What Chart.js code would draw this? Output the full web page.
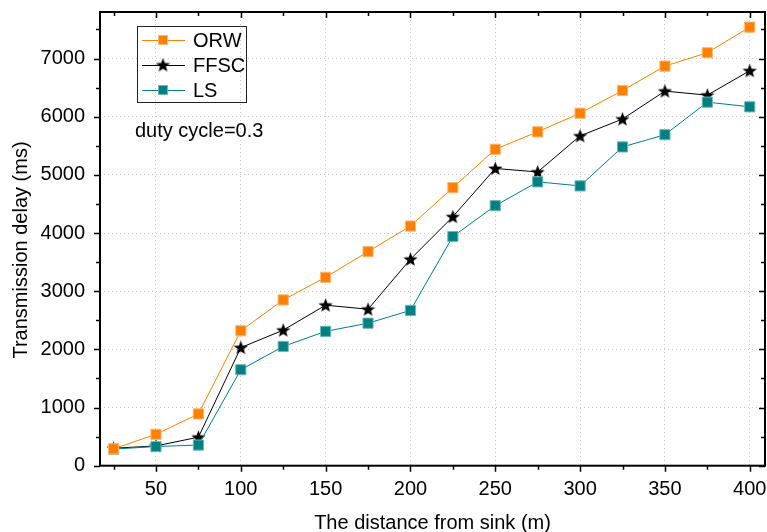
<!DOCTYPE html>
<html>
<head>
<meta charset="utf-8">
<script src="https://cdn.jsdelivr.net/npm/chart.js@4/dist/chart.umd.min.js"></script>
<style>
  html, body { margin: 0; padding: 0; background: #fff; }
  #wrap { width: 767px; height: 532px; }
</style>
</head>
<body>
<div id="wrap"><canvas id="delayChart" width="767" height="532"></canvas></div>
<script>
// Data
const distances = [25, 50, 75, 100, 125, 150, 175, 200, 225, 250, 275, 300, 325, 350, 375, 400];
const orw  = [290, 540, 890, 2320, 2850, 3240, 3680, 4120, 4780, 5440, 5740, 6060, 6450, 6870, 7100, 7540];
const ffsc = [300, 340, 490, 2030, 2330, 2760, 2690, 3550, 4280, 5110, 5050, 5670, 5960, 6440, 6370, 6790];
const ls   = [285, 330, 355, 1650, 2050, 2310, 2450, 2670, 3940, 4470, 4880, 4810, 5480, 5690, 6250, 6170];

const xTicks = [25, 50, 75, 100, 125, 150, 175, 200, 225, 250, 275, 300, 325, 350, 375, 400];
const yTicks = [0, 500, 1000, 1500, 2000, 2500, 3000, 3500, 4000, 4500, 5000, 5500, 6000, 6500, 7000, 7500];

const FONT = 'Arial, "Liberation Sans", sans-serif';
const ORANGE = '#ff8000';
const TEAL = '#008080';

// filled five-point star used as point style
function makeStar(size) {
    const c = document.createElement('canvas');
    c.width = size; c.height = size;
    const g = c.getContext('2d');
    const cx = size / 2, cy = size / 2 + 0.5;
    const R = size / 2, r = R * 0.42;
    g.beginPath();
    for (let i = 0; i < 10; i++) {
        const rad = i % 2 === 0 ? R : r;
        const a = -Math.PI / 2 + i * Math.PI / 5;
        g.lineTo(cx + rad * Math.cos(a), cy + rad * Math.sin(a));
    }
    g.closePath();
    g.fillStyle = '#000';
    g.fill();
    return c;
}
const star = makeStar(15);

function pts(vals) {
    return distances.map((d, i) => ({ x: d, y: vals[i] }));
}

// frame, tick marks, axis titles, legend box and note
const decorations = {
    id: 'decorations',
    afterDraw(chart) {
        const { ctx, chartArea: a, scales: { x, y } } = chart;
        ctx.save();
        ctx.strokeStyle = '#000';
        ctx.lineWidth = 2;
        ctx.strokeRect(a.left, a.top, a.right - a.left, a.bottom - a.top);

        ctx.lineWidth = 1.5;
        ctx.beginPath();
        xTicks.forEach(v => {
            const px = Math.round(x.getPixelForValue(v)) + 0.5;
            const len = v % 50 === 0 ? 6 : 4;
            ctx.moveTo(px, a.bottom); ctx.lineTo(px, a.bottom + len);
            ctx.moveTo(px, a.top); ctx.lineTo(px, a.top + len);
        });
        yTicks.forEach(v => {
            const py = Math.round(y.getPixelForValue(v)) + 0.5;
            const len = v % 1000 === 0 ? 6 : 4;
            ctx.moveTo(a.left, py); ctx.lineTo(a.left - len, py);
            ctx.moveTo(a.right, py); ctx.lineTo(a.right - len, py);
        });
        ctx.stroke();

        // axis titles
        ctx.fillStyle = '#000';
        ctx.font = '20px ' + FONT;
        ctx.textAlign = 'center';
        ctx.textBaseline = 'alphabetic';
        ctx.fillText('The distance from sink (m)', (a.left + a.right) / 2, 529);
        ctx.save();
        ctx.translate(27, 250);
        ctx.rotate(-Math.PI / 2);
        ctx.fillText('Transmission delay (ms)', 0, 0);
        ctx.restore();

        // legend
        ctx.textAlign = 'left';
        ctx.lineWidth = 1;
        ctx.strokeStyle = '#222';
        ctx.strokeRect(137.5, 26.5, 109, 76);
        const items = [
            { label: 'ORW', color: ORANGE, mark: 'sq', fill: ORANGE, edge: '#ffb870' },
            { label: 'FFSC', color: '#000', mark: 'star' },
            { label: 'LS', color: TEAL, mark: 'sq', fill: TEAL, edge: '#70b8b8' }
        ];
        ctx.textBaseline = 'middle';
        items.forEach((it, i) => {
            const ly = 40 + i * 25;
            ctx.strokeStyle = it.color;
            ctx.beginPath();
            ctx.moveTo(142, ly + 0.5); ctx.lineTo(185, ly + 0.5);
            ctx.stroke();
            if (it.mark === 'sq') {
                ctx.fillStyle = it.fill;
                ctx.fillRect(158, ly - 5, 10, 10);
                ctx.strokeStyle = it.edge;
                ctx.strokeRect(158.5, ly - 4.5, 9, 9);
            } else {
                ctx.drawImage(star, 163 - 7.5, ly - 7.5);
            }
            ctx.fillStyle = '#000';
            ctx.fillText(it.label, 193, ly + 1);
        });
        ctx.font = '20px ' + FONT;
        ctx.fillText('duty cycle=0.3', 135, 131);
        ctx.restore();
    }
};

const ctx = document.getElementById('delayChart').getContext('2d');
const delayChart = new Chart(ctx, {
    type: 'line',
    data: {
        datasets: [{
            label: 'ORW',
            data: pts(orw),
            borderColor: ORANGE,
            borderWidth: 1,
            pointStyle: 'rect',
            pointRadius: 7.2,
            pointBackgroundColor: ORANGE,
            pointBorderColor: '#ffb870',
            pointBorderWidth: 1,
            order: 1
        }, {
            label: 'FFSC',
            data: pts(ffsc),
            borderColor: '#000',
            borderWidth: 1,
            pointStyle: star,
            order: 3
        }, {
            label: 'LS',
            data: pts(ls),
            borderColor: TEAL,
            borderWidth: 1,
            pointStyle: 'rect',
            pointRadius: 7.2,
            pointBackgroundColor: TEAL,
            pointBorderColor: '#70b8b8',
            pointBorderWidth: 1,
            order: 2
        }]
    },
    options: {
        responsive: false,
        animation: false,
        layout: { autoPadding: false, padding: { top: 12, right: 2, left: 0, bottom: 0 } },
        plugins: {
            legend: { display: false },
            tooltip: { enabled: false }
        },
        scales: {
            x: {
                type: 'linear',
                min: 17,
                max: 409,
                afterBuildTicks: s => { s.ticks = xTicks.map(v => ({ value: v })); },
                afterFit: s => { s.height = 66.3; s.paddingLeft = 0; s.paddingRight = 0; },
                border: { display: false, dash: [1, 3] },
                grid: {
                    drawTicks: false,
                    color: c => (c.tick && c.tick.value % 50 === 0) ? '#c8c8c8' : 'rgba(0,0,0,0)',
                    lineWidth: 1
                },
                ticks: {
                    padding: 12,
                    color: '#000',
                    font: { family: FONT, size: 20 },
                    maxRotation: 0,
                    autoSkip: false,
                    callback: v => v % 50 === 0 ? String(v) : ''
                }
            },
            y: {
                min: 0,
                max: 7800,
                afterBuildTicks: s => { s.ticks = yTicks.map(v => ({ value: v })); },
                afterFit: s => { s.width = 100; s.paddingTop = 0; s.paddingBottom = 0; },
                border: { display: false, dash: [1, 3] },
                grid: {
                    drawTicks: false,
                    color: c => (c.tick && c.tick.value % 1000 === 0 && c.tick.value !== 0) ? '#c8c8c8' : 'rgba(0,0,0,0)',
                    lineWidth: 1
                },
                ticks: {
                    padding: 15,
                    color: '#000',
                    font: { family: FONT, size: 20 },
                    callback: v => v % 1000 === 0 ? String(v) : ''
                }
            }
        }
    },
    plugins: [decorations]
});
</script>
</body>
</html>
